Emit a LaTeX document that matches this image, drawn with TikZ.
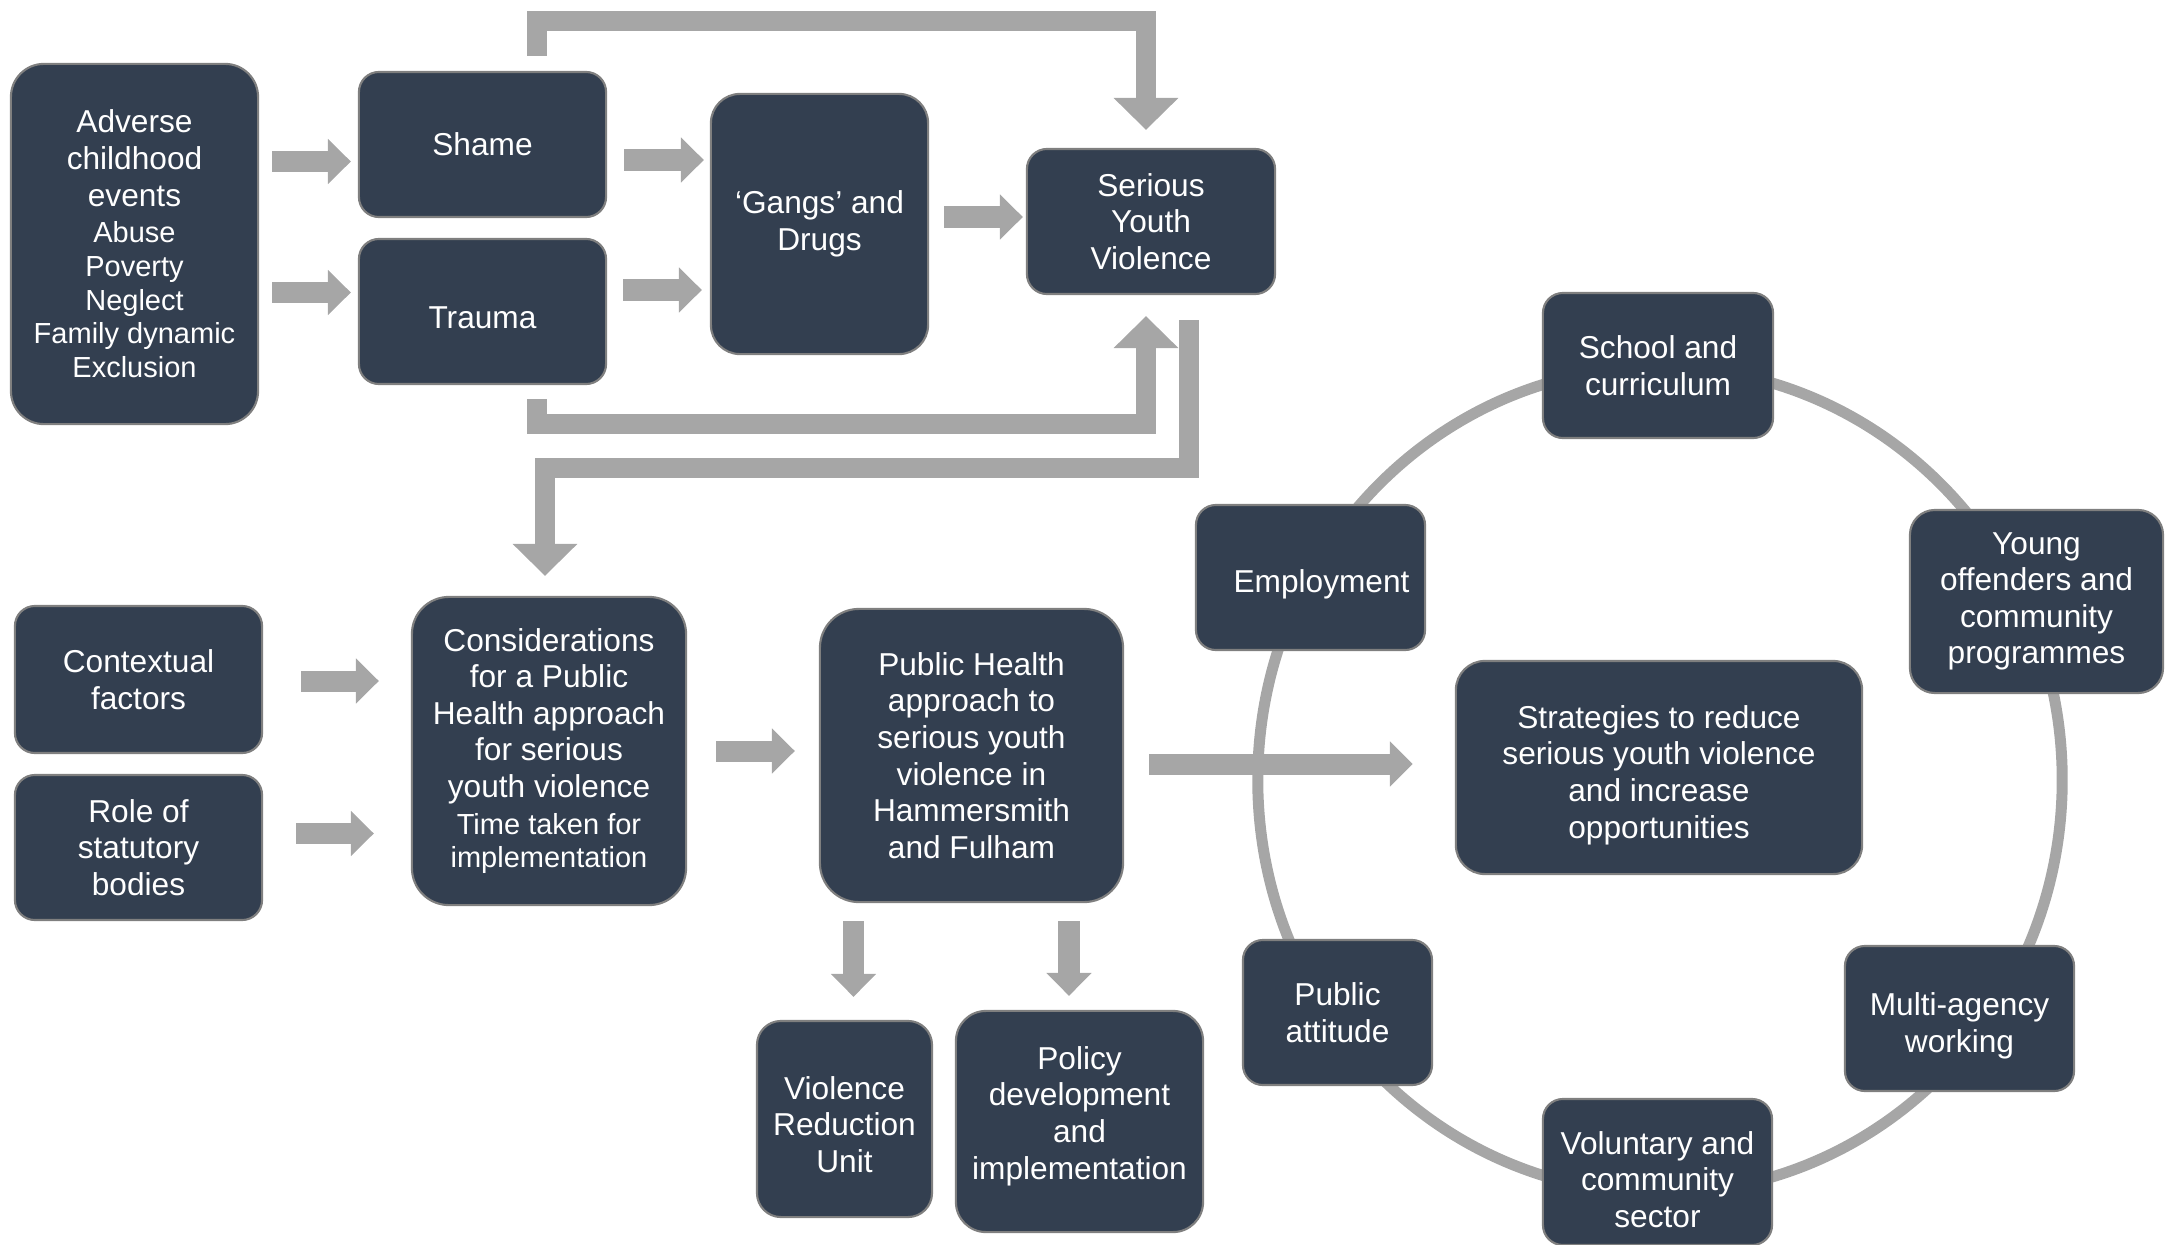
\documentclass[tikz,border=0pt]{standalone}
\usepackage{fontspec}
\setmainfont{Liberation Sans}
\usepackage{tikz}
\usetikzlibrary{arrows.meta}

\definecolor{boxfill}{HTML}{333F50}
\definecolor{boxline}{HTML}{7F7F7F}
\definecolor{flowgray}{HTML}{A6A6A6}

\newcommand{\smalltxt}[1]{{\fontsize{8.25}{9.6}\selectfont #1}}
\newcommand{\padtop}[1]{\rule{0pt}{#1}}
\newcommand{\padbot}[1]{\rule[-#1]{0pt}{#1}}

\begin{document}
\begin{tikzpicture}[x=0.01cm, y=-0.01cm,
  darkbox/.style={draw=boxline, line width=0.6pt, fill=boxfill, text=white, rounded corners=#1,
    align=center, inner sep=0pt, font=\fontsize{9}{10.4}\selectfont},
  darkbox/.default=0.2cm,
  flowarrow/.style={draw=flowgray, line width=0.21cm, -{Triangle[width=0.44cm,length=0.23cm]}},
  feedback/.style={draw=flowgray, line width=0.2cm, line join=miter, -{Triangle[width=0.63cm,length=0.32cm]}},
  ringline/.style={draw=flowgray, line width=0.11cm}]
  	\useasboundingbox (0,0) rectangle (2165,1245);

  	\draw[ringline] (1660,780) ellipse [x radius=4.02cm, y radius=4.13cm];

  	\node[darkbox=0.33cm, minimum width=2.47cm, minimum height=3.60cm] (ACE) at (134.5,244) {Adverse\\childhood\\events\\\smalltxt{Abuse}\\[-0.8pt]\smalltxt{Poverty}\\[-0.8pt]\smalltxt{Neglect}\\[-0.8pt]\smalltxt{Family dynamic}\\[-0.8pt]\smalltxt{Exclusion}};
  	\node[darkbox, minimum width=2.47cm, minimum height=1.45cm] (Shame) at (482.5,144.5) {Shame};
  	\node[darkbox, minimum width=2.47cm, minimum height=1.45cm] (Trauma) at (482.5,311.5) {\padtop{9.6pt}Trauma};
  	\node[darkbox=0.29cm, minimum width=2.17cm, minimum height=2.60cm] (Gangs) at (819.5,224) {‘Gangs’ and\\Drugs};
  	\node[darkbox, minimum width=2.48cm, minimum height=1.45cm] (SYV) at (1151,221.5) {Serious\\Youth\\Violence};

  	\node[darkbox, minimum width=2.47cm, minimum height=1.47cm] (Ctx) at (138.5,679.5) {Contextual\\factors};
  	\node[darkbox, minimum width=2.47cm, minimum height=1.45cm] (Role) at (138.5,847.5) {Role of\\statutory\\bodies};
  	\node[darkbox=0.37cm, minimum width=2.74cm, minimum height=3.08cm] (Cons) at (549,751) {Considerations\\for a Public\\Health approach\\for serious\\youth violence\\\smalltxt{Time taken for}\\[-0.8pt]\smalltxt{implementation}};
  	\node[darkbox=0.39cm, minimum width=3.03cm, minimum height=2.93cm] (PH) at (971.5,755.5) {Public Health\\approach to\\serious youth\\violence in\\Hammersmith\\and Fulham};
  	\node[darkbox=0.24cm, minimum width=1.75cm, minimum height=1.96cm] (VRU) at (844.5,1119) {\padtop{9.6pt}Violence\\Reduction\\Unit};
  	\node[darkbox=0.3cm, minimum width=2.47cm, minimum height=2.21cm] (Policy) at (1079.5,1121.5) {Policy\\development\\and\\implementation\padbot{5pt}};

  	\node[darkbox=0.29cm, minimum width=4.06cm, minimum height=2.13cm] (Strat) at (1659,767.5) {\padtop{10.8pt}Strategies to reduce\\serious youth violence\\and increase\\opportunities};
  	\node[darkbox, minimum width=2.30cm, minimum height=1.45cm] (School) at (1658,365.5) {School and\\curriculum};
  	\node[darkbox=0.25cm, minimum width=2.53cm, minimum height=1.83cm] (Young) at (2036.5,601.5) {Young\\offenders and\\community\\programmes};
  	\node[darkbox, minimum width=2.29cm, minimum height=1.45cm] (Employ) at (1310.5,577.5) {\hspace*{0.22cm}\padtop{10.5pt}Employment};
  	\node[darkbox, minimum width=1.89cm, minimum height=1.45cm] (Public) at (1337.5,1012.5) {Public\\attitude};
  	\node[darkbox, minimum width=2.29cm, minimum height=1.45cm] (Multi) at (1959.5,1018.5) {\padtop{10.75pt}Multi-agency\\working};
  	\node[darkbox, minimum width=2.29cm, minimum height=1.46cm] (Vol) at (1657.5,1172) {\padtop{10.75pt}Voluntary and\\community\\sector};

  	\draw[flowarrow, shorten <=0.13cm, shorten >=0.07cm] (ACE.east |- 0,161.5) -- (Shame.west |- 0,161.5);
  	\draw[flowarrow, shorten <=0.13cm, shorten >=0.07cm] (ACE.east |- 0,292.5) -- (Trauma.west |- 0,292.5);
  	\draw[flowarrow, shorten <=0.17cm, shorten >=0.06cm] (Shame.east |- 0,160) -- (Gangs.west |- 0,160);
  	\draw[flowarrow, shorten <=0.16cm, shorten >=0.08cm] (Trauma.east |- 0,290) -- (Gangs.west |- 0,290);
  	\draw[flowarrow, shorten <=0.15cm, shorten >=0.03cm] (Gangs.east |- 0,217) -- (SYV.west |- 0,217);

  	\draw[feedback, shorten <=0.15cm, shorten >=0.18cm] (Shame.north -| 537,0) |- (1146,21) -- (SYV.north -| 1146,0);
  	\draw[feedback, shorten <=0.14cm, shorten >=0.21cm] (Trauma.south -| 537,0) |- (1146,424) -- (SYV.south -| 1146,0);
  	\draw[feedback, shorten <=0.25cm, shorten >=0.20cm] (SYV.south -| 1189,0) |- (545,468) -- (Cons.north -| 545,0);

  	\draw[flowarrow, shorten <=0.38cm, shorten >=0.32cm] (Ctx.east |- 0,681) -- (Cons.west |- 0,681);
  	\draw[flowarrow, shorten <=0.33cm, shorten >=0.37cm] (Role.east |- 0,833.5) -- (Cons.west |- 0,833.5);
  	\draw[flowarrow, shorten <=0.29cm, shorten >=0.24cm] (Cons.east |- 0,751) -- (PH.west |- 0,751);
  	\draw[flowarrow, shorten <=0.18cm, shorten >=0.23cm] (PH.south -| 853.5,0) -- (VRU.north -| 853.5,0);
  	\draw[flowarrow, shorten <=0.18cm, shorten >=0.14cm] (PH.south -| 1069,0) -- (Policy.north -| 1069,0);
  	\draw[flowarrow, shorten <=0.25cm, shorten >=0.42cm] (PH.east |- 0,764) -- (Strat.west |- 0,764);
\end{tikzpicture}
\end{document}
